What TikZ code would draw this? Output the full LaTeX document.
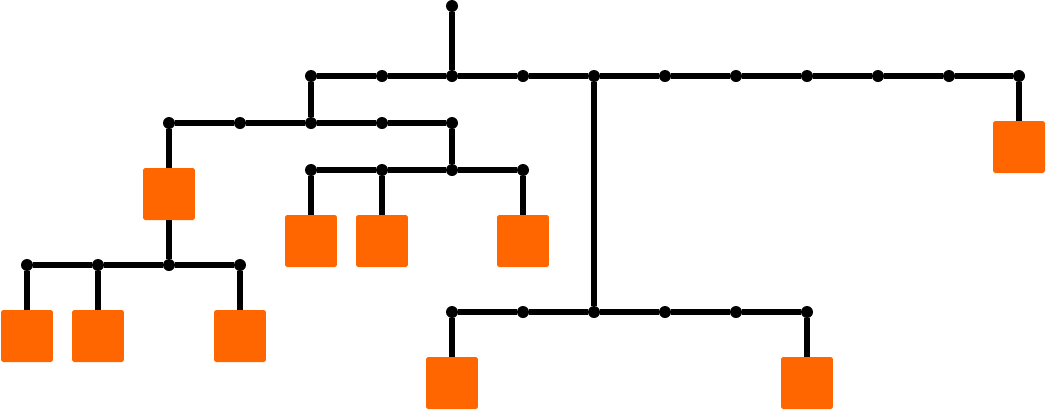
\documentclass[tikz,border=0pt]{standalone}
\usepackage{xcolor}
\usepackage{tikz}

\definecolor{leaforange}{HTML}{FF6600}

\begin{document}
\begin{tikzpicture}[x=0.02cm, y=-0.02cm,
    joint/.style={circle, fill=black, inner sep=0pt, minimum size=0.24cm},
    leaf/.style={rectangle, fill=leaforange, rounded corners=1pt, inner sep=0pt, minimum size=1.04cm},
    wire/.style={line width=2.9pt}]
  \useasboundingbox (0,0) rectangle (1046,410);
  % root
  \node[joint] (top) at (452,6) {};
  % joints, row by row
  \foreach \i/\x in {1/311,2/382,3/452,4/523,5/594,6/665,7/736,8/807,9/878,10/949,11/1019}
    \node[joint] (a\i) at (\x,76) {};
  \foreach \i/\x in {1/169,2/240,3/311,4/382,5/452}
    \node[joint] (b\i) at (\x,123) {};
  \foreach \i/\x in {1/311,2/382,3/452,4/523}
    \node[joint] (c\i) at (\x,170) {};
  \foreach \i/\x in {1/27,2/98,3/169,4/240}
    \node[joint] (d\i) at (\x,265) {};
  \foreach \i/\x in {1/452,2/523,3/594,4/665,5/736,6/807}
    \node[joint] (e\i) at (\x,312) {};
  % leaves
  \node[leaf] (s1) at (1019,147) {};
  \node[leaf] (s2) at (169,194) {};
  \node[leaf] (s3) at (311,241) {};
  \node[leaf] (s4) at (382,241) {};
  \node[leaf] (s5) at (523,241) {};
  \node[leaf] (s6) at (27,336) {};
  \node[leaf] (s7) at (98,336) {};
  \node[leaf] (s8) at (240,336) {};
  \node[leaf] (s9) at (452,383) {};
  \node[leaf] (s10) at (807,383) {};
  % horizontal bars
  \draw[wire] (a1) -- (a2) -- (a3) -- (a4) -- (a5) -- (a6) -- (a7) -- (a8) -- (a9) -- (a10) -- (a11);
  \draw[wire] (b1) -- (b2) -- (b3) -- (b4) -- (b5);
  \draw[wire] (c1) -- (c2) -- (c3) -- (c4);
  \draw[wire] (d1) -- (d2) -- (d3) -- (d4);
  \draw[wire] (e1) -- (e2) -- (e3) -- (e4) -- (e5) -- (e6);
  % vertical links
  \draw[wire] (top) -- (a3);
  \draw[wire] (a1) -- (b3);
  \draw[wire] (a5) -- (e3);
  \draw[wire] (a11) -- (s1);
  \draw[wire] (b1) -- (s2);
  \draw[wire] (b5) -- (c3);
  \draw[wire] (c1) -- (s3);
  \draw[wire] (c2) -- (s4);
  \draw[wire] (c4) -- (s5);
  \draw[wire] (s2) -- (d3);
  \draw[wire] (d1) -- (s6);
  \draw[wire] (d2) -- (s7);
  \draw[wire] (d4) -- (s8);
  \draw[wire] (e1) -- (s9);
  \draw[wire] (e6) -- (s10);
\end{tikzpicture}
\end{document}
